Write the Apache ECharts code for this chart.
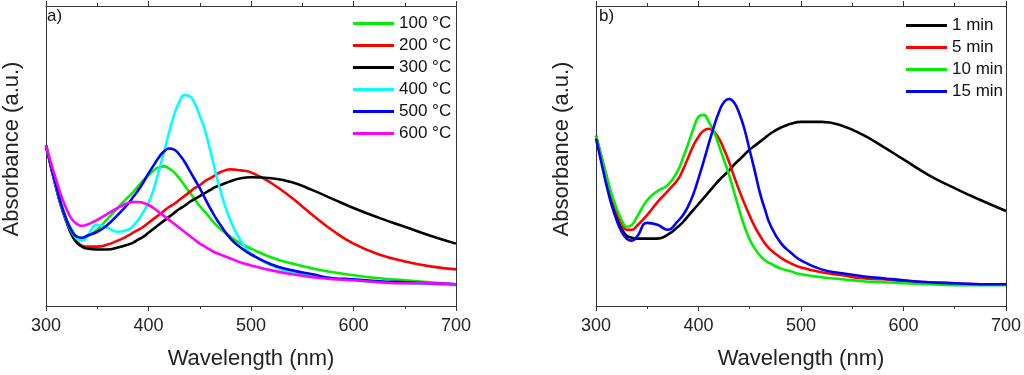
<!DOCTYPE html>
<html>
<head>
<meta charset="utf-8">
<script src="https://cdn.jsdelivr.net/npm/echarts@6.0.0/dist/echarts.min.js"></script>
<style>
  html, body { margin: 0; padding: 0; background: #fff; }
  #chart { width: 1024px; height: 375px; }
</style>
</head>
<body>
<div id="chart"></div>
<script>
// wavelength grid (nm), shared by both panels
const wavelengths = [300, 305, 310, 315, 320, 325, 330, 335, 340, 350, 360, 370, 380, 385, 390, 395,
  400, 405, 410, 415, 420, 425, 430, 435, 440, 445, 450, 455, 460, 465, 470, 480, 490, 500,
  520, 540, 560, 580, 600, 625, 650, 675, 700];

// panel a) annealing temperature
const tempNames = ['100 °C', '200 °C', '300 °C', '400 °C', '500 °C', '600 °C'];
const tempColors = ['#00ee00', '#ff0000', '#000000', '#00ffff', '#0000ff', '#ff00ff'];
const t100 = [1.62, 1.41, 1.21, 1.03, 0.88, 0.77, 0.70, 0.68, 0.70, 0.77, 0.88, 0.99, 1.10, 1.15, 1.21, 1.27,
  1.32, 1.37, 1.40, 1.41, 1.39, 1.35, 1.29, 1.22, 1.15, 1.08, 1.01, 0.95, 0.89, 0.83, 0.78, 0.70, 0.63, 0.58,
  0.49, 0.43, 0.38, 0.34, 0.31, 0.28, 0.26, 0.24, 0.22];
const t200 = [1.62, 1.40, 1.19, 1.00, 0.85, 0.73, 0.65, 0.61, 0.60, 0.60, 0.62, 0.66, 0.71, 0.74, 0.77, 0.80,
  0.84, 0.88, 0.92, 0.96, 1.00, 1.03, 1.07, 1.11, 1.15, 1.19, 1.22, 1.26, 1.29, 1.32, 1.35, 1.38, 1.37, 1.35,
  1.24, 1.09, 0.92, 0.76, 0.63, 0.52, 0.45, 0.40, 0.37];
const t300 = [1.62, 1.40, 1.19, 1.00, 0.85, 0.72, 0.64, 0.60, 0.58, 0.57, 0.57, 0.59, 0.62, 0.64, 0.67, 0.70,
  0.74, 0.78, 0.82, 0.86, 0.90, 0.94, 0.98, 1.01, 1.05, 1.08, 1.11, 1.14, 1.17, 1.20, 1.22, 1.26, 1.29, 1.30,
  1.29, 1.25, 1.17, 1.08, 0.99, 0.89, 0.80, 0.71, 0.63];
const t400 = [1.62, 1.41, 1.20, 1.01, 0.86, 0.75, 0.68, 0.66, 0.70, 0.82, 0.79, 0.75, 0.77, 0.81, 0.87, 0.95,
  1.04, 1.18, 1.36, 1.55, 1.75, 1.93, 2.06, 2.13, 2.12, 2.05, 1.92, 1.78, 1.58, 1.37, 1.17, 0.86, 0.66, 0.53,
  0.41, 0.34, 0.30, 0.28, 0.26, 0.24, 0.23, 0.22, 0.21];
const t500 = [1.62, 1.41, 1.21, 1.02, 0.87, 0.76, 0.70, 0.69, 0.71, 0.75, 0.82, 0.92, 1.03, 1.10, 1.17, 1.25,
  1.34, 1.42, 1.50, 1.56, 1.59, 1.58, 1.53, 1.46, 1.37, 1.28, 1.19, 1.09, 0.99, 0.90, 0.82, 0.68, 0.59, 0.52,
  0.42, 0.36, 0.32, 0.28, 0.27, 0.25, 0.24, 0.23, 0.22];
const t600 = [1.62, 1.44, 1.27, 1.11, 0.98, 0.88, 0.83, 0.81, 0.82, 0.87, 0.93, 0.99, 1.04, 1.05, 1.05, 1.04,
  1.02, 0.99, 0.95, 0.91, 0.87, 0.83, 0.79, 0.75, 0.71, 0.67, 0.63, 0.60, 0.57, 0.54, 0.52, 0.48, 0.44, 0.41,
  0.36, 0.32, 0.29, 0.27, 0.26, 0.24, 0.23, 0.23, 0.22];

// panel b) reaction time
const timeNames = ['1 min', '5 min', '10 min', '15 min'];
const timeColors = ['#000000', '#ff0000', '#00ee00', '#0000ff'];
const m1 = [1.72, 1.50, 1.29, 1.08, 0.90, 0.78, 0.71, 0.69, 0.68, 0.68, 0.68, 0.72, 0.80, 0.85, 0.91, 0.97,
  1.03, 1.09, 1.15, 1.21, 1.27, 1.32, 1.37, 1.43, 1.48, 1.53, 1.58, 1.62, 1.66, 1.70, 1.74, 1.80, 1.84, 1.86,
  1.86, 1.82, 1.73, 1.61, 1.48, 1.32, 1.19, 1.07, 0.96];
const m5 = [1.72, 1.52, 1.32, 1.12, 0.96, 0.84, 0.77, 0.77, 0.81, 0.92, 1.05, 1.16, 1.28, 1.38, 1.50, 1.62,
  1.71, 1.77, 1.79, 1.76, 1.69, 1.58, 1.45, 1.30, 1.16, 1.03, 0.91, 0.80, 0.71, 0.63, 0.57, 0.49, 0.43, 0.39,
  0.34, 0.31, 0.28, 0.27, 0.25, 0.24, 0.23, 0.22, 0.22];
const m10 = [1.72, 1.52, 1.32, 1.14, 0.99, 0.87, 0.80, 0.82, 0.90, 1.07, 1.16, 1.22, 1.37, 1.50, 1.64, 1.79,
  1.91, 1.93, 1.86, 1.76, 1.62, 1.47, 1.32, 1.14, 0.96, 0.80, 0.67, 0.58, 0.51, 0.46, 0.43, 0.38, 0.35, 0.32,
  0.29, 0.27, 0.25, 0.24, 0.23, 0.22, 0.21, 0.21, 0.21];
const m15 = [1.69, 1.46, 1.23, 1.03, 0.87, 0.75, 0.68, 0.66, 0.70, 0.84, 0.82, 0.77, 0.86, 0.92, 1.01, 1.13,
  1.29, 1.46, 1.64, 1.81, 1.96, 2.06, 2.09, 2.05, 1.94, 1.78, 1.57, 1.36, 1.14, 0.97, 0.82, 0.64, 0.54, 0.46,
  0.37, 0.33, 0.30, 0.28, 0.26, 0.24, 0.23, 0.22, 0.22];

const FONT = "'Liberation Sans', Arial, sans-serif";
const AXIS = '#333';

const pairs = (vals) => wavelengths.map((w, i) => [w, vals[i]]);

function lineSeries(name, vals, color, idx) {
  return {
    name: name,
    type: 'line',
    xAxisIndex: idx,
    yAxisIndex: idx,
    data: pairs(vals),
    smooth: 0.5,
    showSymbol: false,
    color: color,
    lineStyle: { color: color, width: 2.6 }
  };
}

function bottomAxis(idx) {
  return {
    type: 'value', gridIndex: idx, position: 'bottom',
    min: 300, max: 700, interval: 100,
    axisLine: { onZero: false, lineStyle: { color: AXIS, width: 1 } },
    axisTick: { length: 5, lineStyle: { color: AXIS } },
    minorTick: { show: true, splitNumber: 2, length: 3, lineStyle: { color: AXIS } },
    splitLine: { show: false },
    axisLabel: { fontSize: 18, color: '#222', margin: 11, fontFamily: FONT },
    name: 'Wavelength (nm)', nameLocation: 'middle', nameGap: 42,
    nameTextStyle: { fontSize: 22, color: '#222', fontFamily: FONT }
  };
}

function topAxis(idx) {
  return {
    type: 'value', gridIndex: idx, position: 'top',
    min: 300, max: 700, interval: 100,
    axisLine: { onZero: false, lineStyle: { color: AXIS, width: 1 } },
    axisTick: { length: 5, lineStyle: { color: AXIS } },
    minorTick: { show: true, splitNumber: 2, length: 3, lineStyle: { color: AXIS } },
    splitLine: { show: false },
    axisLabel: { show: false }
  };
}

function leftAxis(idx) {
  return {
    type: 'value', gridIndex: idx, position: 'left',
    min: 0, max: 3.03,
    axisLine: { show: true, onZero: false, lineStyle: { color: AXIS, width: 1 } },
    axisTick: { show: false },
    axisLabel: { show: false },
    splitLine: { show: false },
    name: 'Absorbance (a.u.)', nameLocation: 'middle', nameGap: 23,
    nameTextStyle: { fontSize: 22, color: '#222', fontFamily: FONT, padding: [0, 0, 0, 14] }
  };
}

function rightAxis(idx) {
  return {
    type: 'value', gridIndex: idx, position: 'right',
    min: 0, max: 3.03,
    axisLine: { show: true, onZero: false, lineStyle: { color: AXIS, width: 1 } },
    axisTick: { show: false },
    axisLabel: { show: false },
    splitLine: { show: false }
  };
}

function legend(names, left, top) {
  return {
    data: names, orient: 'vertical', left: left, top: top,
    icon: 'rect', itemWidth: 41, itemHeight: 3, itemGap: 5,
    selectedMode: false,
    textStyle: { fontSize: 17, color: '#111', fontFamily: FONT }
  };
}

const chart = echarts.init(document.getElementById('chart'));
const tempVals = [t100, t200, t300, t400, t500, t600];
const timeVals = [m1, m5, m10, m15];

chart.setOption({
  animation: false,
  backgroundColor: '#fff',
  textStyle: { fontFamily: FONT },
  grid: [
    { left: 44, top: 6, width: 412, height: 303 },
    { left: 596, top: 6, width: 412, height: 303 }
  ],
  xAxis: [bottomAxis(0), bottomAxis(1), topAxis(0), topAxis(1)],
  yAxis: [leftAxis(0), leftAxis(1), rightAxis(0), rightAxis(1)],
  legend: [legend(tempNames, 348, 10), legend(timeNames, 901, 12)],
  graphic: [
    { type: 'text', left: 47, top: 8, style: { text: 'a)', fontSize: 17, fill: '#111', fontFamily: FONT } },
    { type: 'text', left: 599, top: 8, style: { text: 'b)', fontSize: 17, fill: '#111', fontFamily: FONT } }
  ],
  series: tempNames.map((n, i) => lineSeries(n, tempVals[i], tempColors[i], 0))
    .concat(timeNames.map((n, i) => lineSeries(n, timeVals[i], timeColors[i], 1)))
});

window.addEventListener('resize', function () {
  chart.resize();
});
</script>
</body>
</html>
